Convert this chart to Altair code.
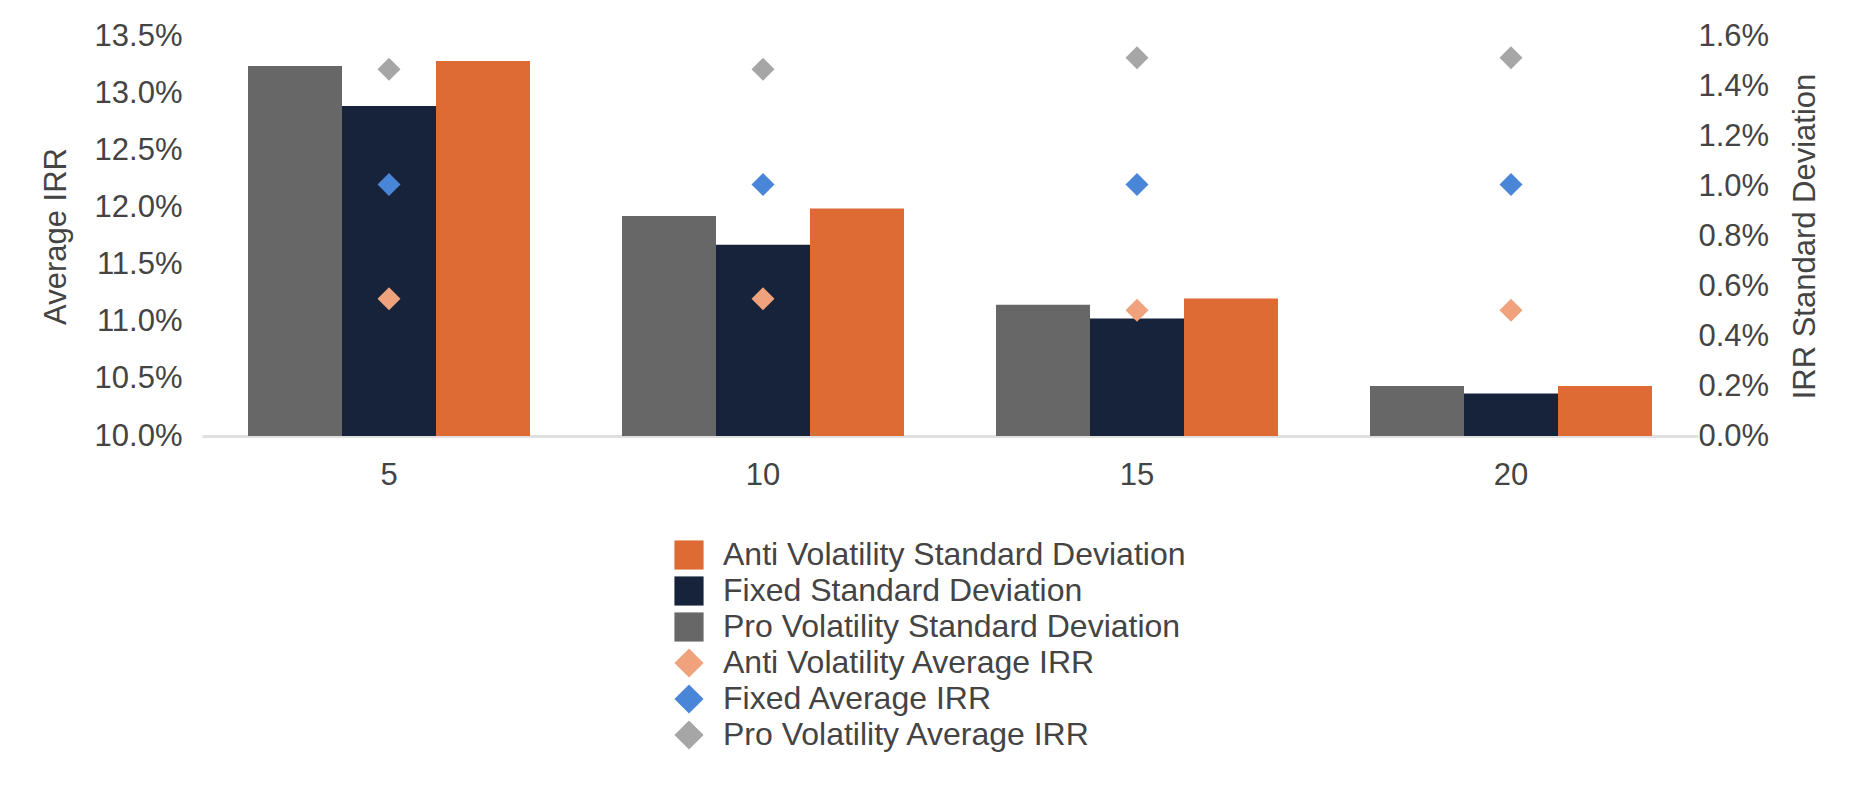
import altair as alt
import pandas as pd

categories = ["5", "10", "15", "20"]

# IRR standard deviation (%), right axis (bars)
pro_sd = [1.48, 0.88, 0.525, 0.20]
fixed_sd = [1.32, 0.765, 0.47, 0.17]
anti_sd = [1.50, 0.91, 0.55, 0.20]

# Average IRR (%), left axis (diamonds)
pro_irr = [13.21, 13.21, 13.31, 13.31]
fixed_irr = [12.20, 12.20, 12.20, 12.20]
anti_irr = [11.20, 11.20, 11.10, 11.10]

legend_order = [
    "Anti Volatility Standard Deviation",
    "Fixed Standard Deviation",
    "Pro Volatility Standard Deviation",
    "Anti Volatility Average IRR",
    "Fixed Average IRR",
    "Pro Volatility Average IRR",
]
legend_colors = ["#DE6B34", "#16233A", "#676767", "#EFA27C", "#4A86D8", "#A6A6A6"]
legend_shapes = ["square", "square", "square", "diamond", "diamond", "diamond"]
bar_order = [legend_order[2], legend_order[1], legend_order[0]]

bar_rows = []
for name, vals in [(legend_order[2], pro_sd), (legend_order[1], fixed_sd), (legend_order[0], anti_sd)]:
    for c, v in zip(categories, vals):
        bar_rows.append({"cat": c, "series": name, "value": v / 100})
bars_df = pd.DataFrame(bar_rows)

pt_rows = []
for name, vals in [(legend_order[3], anti_irr), (legend_order[4], fixed_irr), (legend_order[5], pro_irr)]:
    for c, v in zip(categories, vals):
        pt_rows.append({"cat": c, "series": name, "value": v / 100})
pts_df = pd.DataFrame(pt_rows)

FONT = "Liberation Sans, Arial, sans-serif"
TXT = "#444444"

x_enc = alt.X(
    "cat:N",
    sort=categories,
    scale=alt.Scale(paddingInner=0.246, paddingOuter=0.123),
    axis=alt.Axis(
        title=None, labelAngle=0, ticks=False, labelPadding=24,
        domainColor="#E0E0E0", domainWidth=3, labelFontSize=31,
        labelColor=TXT, labelFont=FONT, grid=False,
    ),
)

legend_kwargs = dict(
    title=None, orient="none", legendX=471, legendY=503,
    direction="vertical", labelFontSize=32, labelFont=FONT,
    labelColor=TXT, symbolSize=850, labelOffset=18, rowPadding=4,
    padding=0, symbolStrokeWidth=0, symbolOpacity=1, labelLimit=800,
)

color_enc = alt.Color(
    "series:N",
    scale=alt.Scale(domain=legend_order, range=legend_colors),
    legend=alt.Legend(**legend_kwargs),
)
shape_enc = alt.Shape(
    "series:N",
    scale=alt.Scale(domain=legend_order, range=legend_shapes),
    legend=alt.Legend(**legend_kwargs),
)

bars = alt.Chart(bars_df).mark_bar(opacity=1).encode(
    x=x_enc,
    xOffset=alt.XOffset("series:N", sort=bar_order,
                        scale=alt.Scale(domain=bar_order, paddingInner=0, paddingOuter=0)),
    y=alt.Y(
        "value:Q",
        scale=alt.Scale(domain=[0, 0.016], nice=False, zero=True),
        axis=alt.Axis(
            orient="right", title="IRR Standard Deviation", format=".1%",
            values=[0, 0.002, 0.004, 0.006, 0.008, 0.010, 0.012, 0.014, 0.016],
            ticks=False, domain=False, grid=False, labelPadding=0,
            labelFontSize=31, labelFont=FONT, labelColor=TXT,
            titleFontSize=31, titleFont=FONT, titleColor=TXT,
            titleFontWeight="normal", titlePadding=22, titleAngle=270,
            titleBaseline="top",
        ),
    ),
    color=color_enc,
)

points = alt.Chart(pts_df).mark_point(filled=True, opacity=1, size=530).encode(
    x=x_enc,
    y=alt.Y(
        "value:Q",
        scale=alt.Scale(domain=[0.10, 0.135], nice=False, zero=False),
        axis=alt.Axis(
            orient="left", title="Average IRR", format=".1%",
            values=[0.10, 0.105, 0.11, 0.115, 0.12, 0.125, 0.13, 0.135],
            ticks=False, domain=False, grid=False, labelPadding=20,
            labelFontSize=31, labelFont=FONT, labelColor=TXT,
            titleFontSize=31, titleFont=FONT, titleColor=TXT,
            titleFontWeight="normal", titlePadding=22,
        ),
    ),
    color=color_enc,
    shape=shape_enc,
)

chart = (
    alt.layer(bars, points)
    .resolve_scale(y="independent")
    .properties(
        width=1496,
        height=400,
        autosize=alt.AutoSizeParams(type="none"),
        padding={"left": 194, "top": 28, "right": 154, "bottom": 356},
        background="white",
    )
    .configure_view(stroke=None)
)

chart.save("out.html", embed_options={"renderer": "svg", "actions": False})
